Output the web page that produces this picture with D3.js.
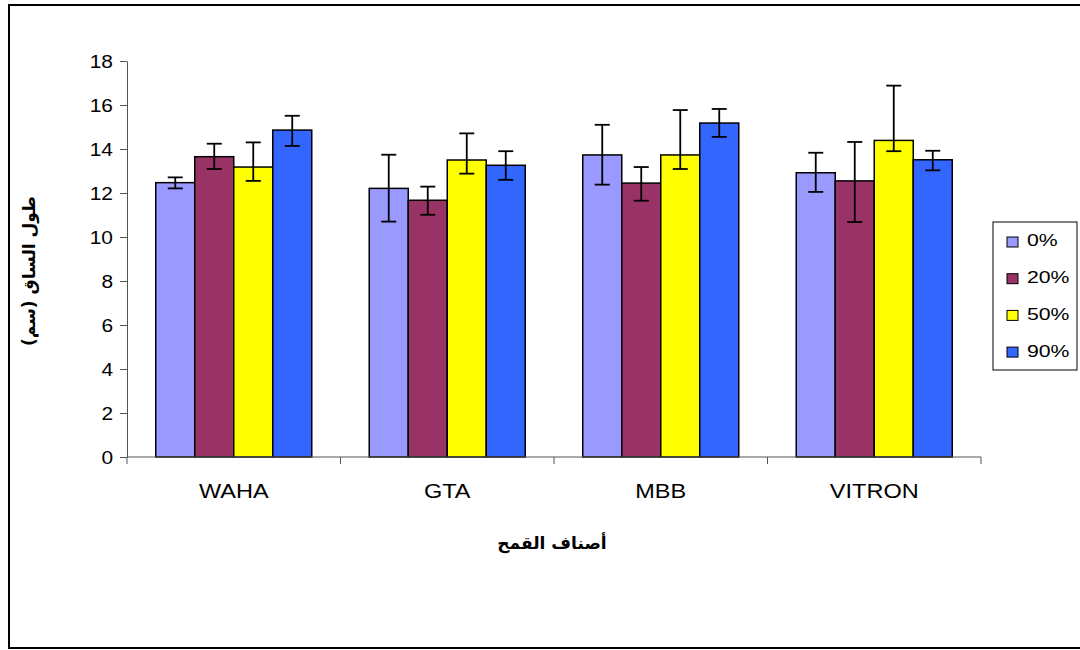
<!DOCTYPE html>
<html><head><meta charset="utf-8">
<script src="https://cdn.jsdelivr.net/npm/d3@7"></script>
<style>body{margin:0;background:#fff;} svg{display:block;}</style>
</head><body>
<svg id="c" width="1080" height="650"></svg>
<script>
const categories = ["WAHA", "GTA", "MBB", "VITRON"];
const series = ["0%", "20%", "50%", "90%"];
const colors = ["#9999FF", "#993366", "#FFFF00", "#3366FF"];
// values per series, across categories
const v0  = [12.47, 12.21, 13.73, 12.92];
const v20 = [13.65, 11.67, 12.45, 12.55];
const v50 = [13.18, 13.50, 13.73, 14.39];
const v90 = [14.86, 13.26, 15.18, 13.51];
const errUp0  = [0.24, 1.53, 1.37, 0.91];
const errUp20 = [0.59, 0.62, 0.73, 1.77];
const errUp50 = [1.12, 1.21, 2.04, 2.49];
const errUp90 = [0.65, 0.64, 0.64, 0.41];
const errDn0  = [0.26, 1.51, 1.35, 0.87];
const errDn20 = [0.56, 0.66, 0.80, 1.87];
const errDn50 = [0.63, 0.62, 0.64, 0.49];
const errDn90 = [0.72, 0.66, 0.63, 0.48];
const yTicks = [0, 2, 4, 6, 8, 10, 12, 14, 16, 18];

const vals = [v0, v20, v50, v90];
const ups = [errUp0, errUp20, errUp50, errUp90];
const dns = [errDn0, errDn20, errDn50, errDn90];

const svg = d3.select("#c");
// outer frame
svg.append("rect").attr("x", 9).attr("y", 5).attr("width", 1080).attr("height", 643)
  .attr("fill", "none").attr("stroke", "#000").attr("stroke-width", 2);

const pL = 127, pR = 981, pT = 61, pB = 457;
const x0 = d3.scaleBand().domain(categories).range([pL, pR]).padding(0);
const x1 = d3.scaleBand().domain(series).range([0, x0.bandwidth()]).paddingInner(0).paddingOuter(0.737);
const y = d3.scaleLinear().domain([0, 18]).range([pB, pT]);

const data = [];
categories.forEach((c, i) => series.forEach((s, j) => data.push({c, s, j, v: vals[j][i], up: ups[j][i], dn: dns[j][i]})));

// bars
svg.append("g").selectAll("rect").data(data).join("rect")
  .attr("x", d => x0(d.c) + x1(d.s))
  .attr("y", d => y(d.v))
  .attr("width", x1.bandwidth())
  .attr("height", d => y(0) - y(d.v))
  .attr("fill", d => colors[d.j])
  .attr("stroke", "#000").attr("stroke-width", 1.5);

// error bars
const eg = svg.append("g").attr("stroke", "#000").attr("stroke-width", 1.8);
data.forEach(d => {
  const cx = x0(d.c) + x1(d.s) + x1.bandwidth() / 2;
  const yt = y(d.v + d.up), yb = y(d.v - d.dn);
  eg.append("line").attr("x1", cx).attr("x2", cx).attr("y1", yt).attr("y2", yb);
  eg.append("line").attr("x1", cx - 7.5).attr("x2", cx + 7.5).attr("y1", yt).attr("y2", yt);
  eg.append("line").attr("x1", cx - 7.5).attr("x2", cx + 7.5).attr("y1", yb).attr("y2", yb);
});

// y axis
const sx = 1.1;
const ya = svg.append("g").attr("transform", `translate(${pL},0)`)
  .call(d3.axisLeft(y).tickValues(yTicks).tickSize(7).tickPadding(7).tickSizeOuter(0));
ya.select(".domain").attr("stroke", "#555");
ya.selectAll(".tick line").attr("stroke", "#555");
ya.selectAll("text").attr("font-family", "Liberation Sans, Arial, sans-serif").attr("font-size", 19).attr("fill", "#000")
  .attr("x", -14 / sx).attr("transform", `scale(${sx},1)`);

// x axis
const xa = svg.append("g").attr("transform", `translate(0,${pB})`);
xa.append("line").attr("x1", pL).attr("x2", pR).attr("y1", 0).attr("y2", 0).attr("stroke", "#555");
const bounds = categories.map(c => x0(c)).concat([pR]);
xa.selectAll("line.t").data(bounds).join("line").attr("class", "t")
  .attr("x1", d => d).attr("x2", d => d).attr("y1", 0).attr("y2", 7).attr("stroke", "#555");
const sxc = 1.12;
xa.selectAll("text").data(categories).join("text")
  .attr("x", c => (x0(c) + x0.bandwidth() / 2) / sxc).attr("y", 41)
  .attr("transform", `scale(${sxc},1)`)
  .attr("text-anchor", "middle")
  .attr("font-family", "Liberation Sans, Arial, sans-serif").attr("font-size", 21)
  .text(c => c);

// axis titles
svg.append("text").attr("x", 552).attr("y", 549).attr("text-anchor", "middle")
  .attr("font-family", "DejaVu Sans, sans-serif").attr("font-weight", "bold").attr("font-size", 17)
  .attr("direction", "rtl").text("أصناف القمح");
svg.append("text").attr("transform", "translate(35,271) rotate(-90)").attr("text-anchor", "middle")
  .attr("font-family", "DejaVu Sans, sans-serif").attr("font-weight", "bold").attr("font-size", 17)
  .attr("direction", "rtl").text("طول الساق (سم)");

// legend
const lg = svg.append("g");
lg.append("rect").attr("x", 993).attr("y", 222).attr("width", 84).attr("height", 148)
  .attr("fill", "#fff").attr("stroke", "#000").attr("stroke-width", 1);
const sxl = 1.25;
series.forEach((s, j) => {
  const base = 246.5 + j * 36.7;
  lg.append("rect").attr("x", 1007).attr("y", base - 9.5).attr("width", 11).attr("height", 10)
    .attr("fill", colors[j]).attr("stroke", "#000").attr("stroke-width", 1);
  lg.append("text").attr("x", 1027 / sxl).attr("y", base).attr("transform", `scale(${sxl},1)`)
    .attr("font-family", "Liberation Sans, Arial, sans-serif").attr("font-size", 17).text(s);
});
</script>
</body></html>
